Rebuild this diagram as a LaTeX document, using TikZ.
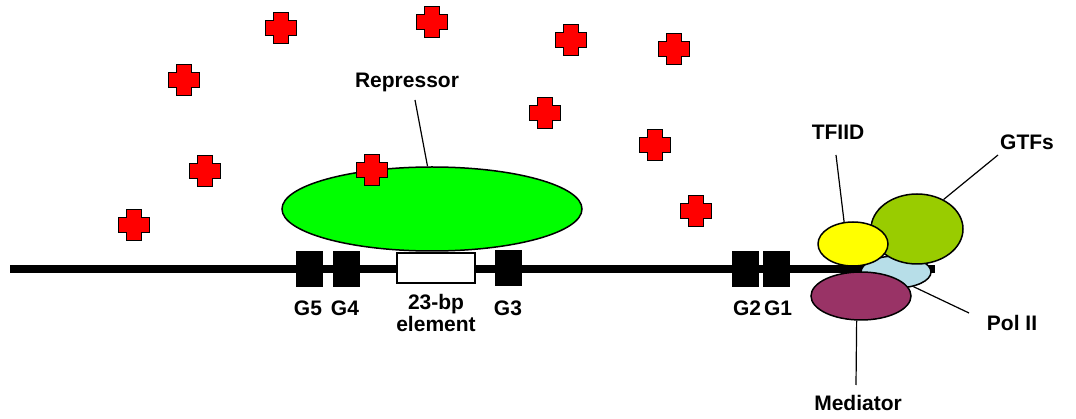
\documentclass[tikz,border=0pt]{standalone}
\usepackage{fontspec}
\setmainfont{Liberation Sans}
\usetikzlibrary{shapes.geometric}
\definecolor{crossred}{HTML}{FF0000}
\definecolor{repgreen}{HTML}{00FF00}
\definecolor{gtfgreen}{HTML}{99CC00}
\definecolor{tfyellow}{HTML}{FFFF00}
\definecolor{polblue}{HTML}{B7DEE8}
\definecolor{medpurple}{HTML}{993366}
\tikzset{
  lbl/.style={font=\fontsize{21}{24}\selectfont\bfseries, inner sep=1pt},
  blob/.style={ellipse, draw=black, line width=1.5pt, inner sep=0pt},
  gbox/.style={fill=black, draw=black, minimum width=26pt, minimum height=35pt, inner sep=0pt},
  leader/.style={draw=black, line width=1.2pt},
  redcross/.pic={\draw[fill=crossred, line width=1.5pt, line join=miter]
     (-7.5,-15.5) -- (7.5,-15.5) -- (7.5,-7.5) -- (15.5,-7.5) -- (15.5,7.5) -- (7.5,7.5) -- (7.5,15.5) -- (-7.5,15.5)
     -- (-7.5,7.5) -- (-15.5,7.5) -- (-15.5,-7.5) -- (-7.5,-7.5) -- cycle;}
}
\begin{document}
\begin{tikzpicture}[x=1pt, y=-1pt]
\useasboundingbox (0,0) rectangle (1076,419);
% repressor
\node[blob, fill=repgreen, minimum width=300pt, minimum height=84pt] (rep) at (432,209) {};
% DNA
\coordinate (dnaL) at (10,269);
\coordinate (dnaR) at (935,269);
\draw[line width=8pt] (dnaL) -- (dnaR);
% G boxes
\node[gbox] (g5) at (309,269) {};
\node[gbox] (g4) at (346,269) {};
\node[draw=black, fill=white, line width=1.5pt, minimum width=78pt, minimum height=30pt, inner sep=0pt] (bp) at (436,268) {};
\node[gbox] (g3) at (508,268) {};
\node[gbox] (g2) at (745,269) {};
\node[gbox] (g1) at (776,269) {};
\node[lbl] (g5l) at (308,308) {G5};
\node[lbl] (g4l) at (345,308) {G4};
\node[lbl, align=center, font=\fontsize{21}{22}\selectfont\bfseries] (bpl) at (436,313) {23-bp\\element};
\node[lbl] (g3l) at (508,308) {G3};
\node[lbl] (g2l) at (747,308) {G2};
\node[lbl] (g1l) at (778,308) {G1};
% right cluster
\node[blob, fill=polblue, minimum width=70pt, minimum height=32pt] (pol) at (896,272) {};
\node[blob, fill=gtfgreen, minimum width=92pt, minimum height=70pt] (gtfs) at (917,229) {};
\node[blob, fill=tfyellow, minimum width=70pt, minimum height=44pt] (tfiid) at (853,244) {};
\node[blob, fill=medpurple, minimum width=100pt, minimum height=48pt] (med) at (861,296) {};
% labels
\node[lbl] (repl) at (407,82) {Repressor};
\node[lbl] (tfl) at (838,132) {TFIID};
\node[lbl] (gtfl) at (1027,142) {GTFs};
\node[lbl] (poll) at (1012,323) {Pol II};
\node[lbl] (medl) at (858,403) {Mediator};
\coordinate (repc) at (415,100);
\coordinate (tfc) at (836,155);
\coordinate (gtfc) at (998,155);
\coordinate (polc) at (969,313);
\coordinate (medc) at (856,385);
\draw[leader] (repc) -- (rep.96);
\draw[leader] (tfc) -- (tfiid.112);
\draw[leader] (gtfc) -- (gtfs.48);
\draw[leader] (polc) -- (pol.-40);
\draw[leader] (medc) -- (med.-100);
% red crosses
\foreach \p in {(281,28),(432,22),(571,40),(674,49),(184,80),(545,113),(655,145),(205,171),(372,170),(134,225),(696,211)}
  \pic at \p {redcross};
\end{tikzpicture}
\end{document}
